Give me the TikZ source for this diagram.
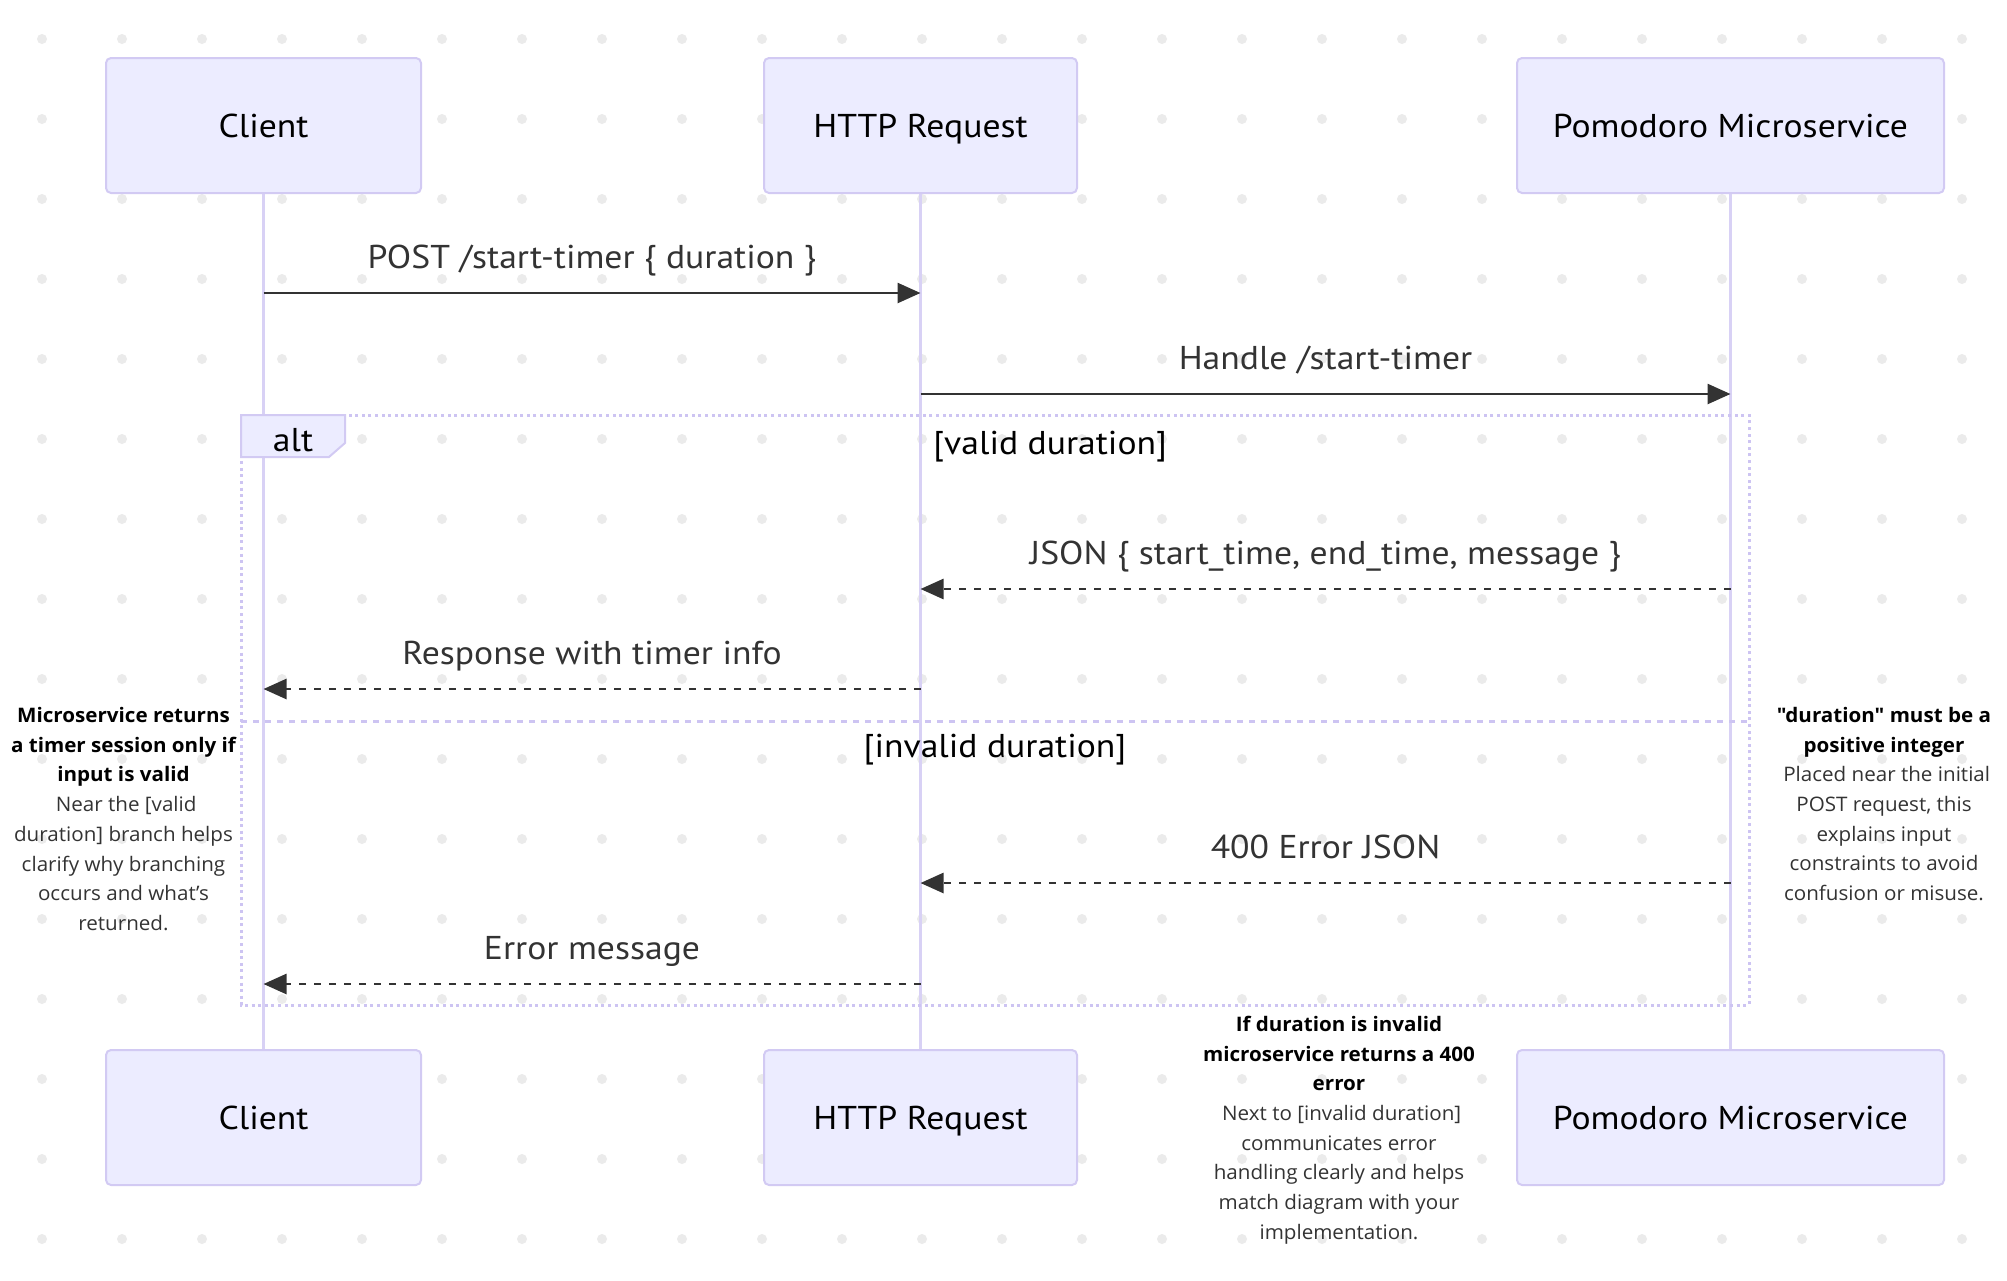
\documentclass[tikz,border=0pt]{standalone}
\usepackage{fontspec}
\setmainfont{PT Sans}[FakeStretch=1.08]
\newfontfamily\notefont{Open Sans}[FakeStretch=1.03]
\usetikzlibrary{positioning,arrows.meta}

\definecolor{actorfill}{HTML}{ECECFF}
\definecolor{actorline}{HTML}{D2CAF3}
\definecolor{lifecol}{HTML}{D8D1F5}
\definecolor{framecol}{HTML}{CDC4F2}
\definecolor{msgcol}{HTML}{333333}
\definecolor{dotcol}{HTML}{EBEBEB}

\begin{document}
\begin{tikzpicture}[x=0.5pt, y=-0.5pt,
    actor/.style={draw=actorline, fill=actorfill, line width=1pt, rounded corners=2.5pt, minimum height=67.5pt, text height=12pt, text depth=0pt, font=\fontsize{16.5}{19}\selectfont},
    life/.style={draw=lifecol, line width=1.3pt},
    msg/.style={draw=msgcol, line width=1.3pt, -{Triangle[length=11.5pt, width=10pt]}},
    reply/.style={msg, dash pattern=on 3.5pt off 4pt},
    msglabel/.style={anchor=base, inner sep=0pt, text=msgcol, font=\fontsize{16.5}{19}\selectfont, yshift=12.5pt},
    section/.style={inner sep=0pt, font=\fontsize{16.5}{19}\selectfont},
    frame/.style={draw=framecol, line width=1.5pt, dash pattern=on 1.5pt off 1.8pt},
    notetext/.style={align=center, inner sep=0pt, text=msgcol, font=\notefont\fontsize{10}{14.85}\selectfont}]
    \useasboundingbox (0,0) rectangle (2007,1280);
    \fill[white] (0,0) rectangle (2007,1280);
    % dotted background
    \foreach \i in {0,...,24}
      \foreach \j in {0,...,15}
        \fill[dotcol] (42+80*\i, 39+80*\j) circle (2.5pt);

    % participants
    \node[actor, minimum width=157.5pt] (client) at (263.5,125.5) {Client};
    \node[actor, minimum width=156.5pt, right=170.5pt of client] (http) {HTTP Request};
    \node[actor, minimum width=213.5pt, right=219pt of http] (pomo) {Pomodoro Microservice};
    \node[actor, minimum width=157.5pt, below=427.5pt of client] (clientB) {Client};
    \node[actor, minimum width=156.5pt, below=427.5pt of http] (httpB) {HTTP Request};
    \node[actor, minimum width=213.5pt, below=427.5pt of pomo] (pomoB) {Pomodoro Microservice};

    \draw[life] (client) -- (clientB);
    \draw[life] (http) -- (httpB);
    \draw[life] (pomo) -- (pomoB);

    % alt block
    \coordinate (altNW) at (241,415);
    \coordinate (altSE) at (1749,1005);
    \draw[frame] (altNW) rectangle (altSE);
    \draw[frame, dash pattern=on 3pt off 3pt] (altNW |- 0,721) -- (altSE |- 0,721);
    \draw[draw=actorline, fill=actorfill, line width=1pt] (altNW) -- (345,415) -- (345,443) -- (329,457) -- (241,457) -- cycle;
    \node[section, anchor=base] (alttag) at (293,451) {alt};
    \node[section, anchor=base west] (validlbl) at (933,454) {[valid duration]};
    \node[section, anchor=base] (invalidlbl) at (995,757) {[invalid duration]};

    % messages
    \coordinate (m1a) at (client |- 0,293);
    \coordinate (m1b) at (http |- 0,293);
    \coordinate (m2a) at (http |- 0,394);
    \coordinate (m2b) at (pomo |- 0,394);
    \coordinate (m3a) at (pomo |- 0,589);
    \coordinate (m3b) at (http |- 0,589);
    \coordinate (m4a) at (http |- 0,689);
    \coordinate (m4b) at (client |- 0,689);
    \coordinate (m5a) at (pomo |- 0,883);
    \coordinate (m5b) at (http |- 0,883);
    \coordinate (m6a) at (http |- 0,984);
    \coordinate (m6b) at (client |- 0,984);

    \draw[msg] (m1a) -- (m1b) node[msglabel, midway] (m1lbl) {POST /start-timer \{ duration \}};
    \draw[msg] (m2a) -- (m2b) node[msglabel, midway] (m2lbl) {Handle /start-timer};
    \draw[reply] (m3a) -- (m3b) node[msglabel, midway] (m3lbl) {JSON \{ start\_time, end\_time, message \}};
    \draw[reply] (m4a) -- (m4b) node[msglabel, midway] (m4lbl) {Response with timer info};
    \draw[reply] (m5a) -- (m5b) node[msglabel, midway] (m5lbl) {400 Error JSON};
    \draw[reply] (m6a) -- (m6b) node[msglabel, midway] (m6lbl) {Error message};

    % notes
    \node[notetext] (noteValid) at (123.5,819) {\textbf{\color{black}Microservice returns}\\ \textbf{\color{black}a timer session only if}\\ \textbf{\color{black}input is valid}\\ \ Near the [valid\\ duration] branch helps\\ clarify why branching\\ occurs and what’s\\ returned.};
    \node[notetext] (noteDuration) at (1884,804) {\textbf{\color{black}"duration" must be a}\\ \textbf{\color{black}positive integer}\\ \ Placed near the initial\\ POST request, this\\ explains input\\ constraints to avoid\\ confusion or misuse.};
    \node[notetext] (noteError) at (1339,1130) {\textbf{\color{black}If duration is invalid}\\ \textbf{\color{black}microservice returns a 400}\\ \textbf{\color{black}error}\\ \ Next to [invalid duration]\\ communicates error\\ handling clearly and helps\\ match diagram with your\\ implementation.};
\end{tikzpicture}
\end{document}
